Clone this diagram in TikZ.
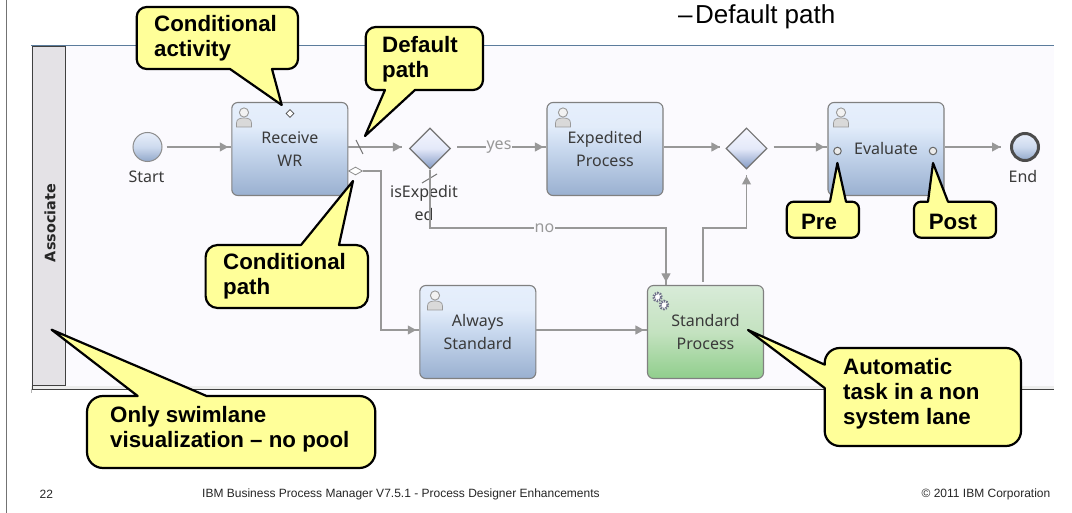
\documentclass[tikz,border=0pt]{standalone}
\usepackage{fontspec}
\setmainfont{Liberation Sans}
\newfontfamily\bpmfont{Noto Sans}
\newfontfamily\lanefont{DejaVu Sans}
\usetikzlibrary{arrows.meta,decorations.markings,shapes.geometric,calc}
\definecolor{flowc}{HTML}{989898}
\definecolor{lanebg}{HTML}{FBFAFE}
\definecolor{headbg}{HTML}{E4E2E6}
\definecolor{notey}{HTML}{FFFF99}
\definecolor{topline}{HTML}{5B7C9C}
\definecolor{bpmtext}{HTML}{3A3A3A}
\definecolor{gearc}{HTML}{6E7088}
\definecolor{tbA}{HTML}{9AB0D0}
\definecolor{tbB}{HTML}{C8D8EE}
\definecolor{tbC}{HTML}{E2ECFA}
\definecolor{tbD}{HTML}{E6EFFC}
\definecolor{tgA}{HTML}{90CE8C}
\definecolor{tgB}{HTML}{C4E2C0}
\definecolor{tgC}{HTML}{D8EBD8}
\definecolor{gwA}{HTML}{8299C4}
\definecolor{gwB}{HTML}{E4E9F9}
\definecolor{gwC}{HTML}{F5F6FE}
\definecolor{evA}{HTML}{92A8CA}
\definecolor{evB}{HTML}{CDDAEE}
\definecolor{evC}{HTML}{E8EEFA}
\pgfdeclareverticalshading{bluetask}{100bp}{color(0bp)=(tbA); color(25bp)=(tbA); color(50bp)=(tbB); color(62bp)=(tbC); color(75bp)=(tbD); color(100bp)=(tbD)}
\pgfdeclareverticalshading{greentask}{100bp}{color(0bp)=(tgA); color(25bp)=(tgA); color(50bp)=(tgB); color(75bp)=(tgC); color(100bp)=(tgC)}
\pgfdeclareverticalshading{gwshade}{100bp}{color(0bp)=(gwA); color(25bp)=(gwA); color(50bp)=(gwB); color(75bp)=(gwC); color(100bp)=(gwC)}
\pgfdeclareverticalshading{evshade}{100bp}{color(0bp)=(evA); color(25bp)=(evA); color(50bp)=(evB); color(75bp)=(evC); color(100bp)=(evC)}
\tikzset{
  taskbox/.style={draw=black!50,line width=1.1pt,rounded corners=6pt,minimum width=116pt,minimum height=93pt,
     inner sep=0pt,align=center,font=\bpmfont\fontsize{16}{23}\selectfont,text=bpmtext},
  humantask/.style={taskbox,shade,shading=bluetask},
  autotask/.style={taskbox,shade,shading=greentask},
  gateway/.style={diamond,aspect=1,draw=black!55,line width=1.1pt,minimum width=41pt,minimum height=41pt,inner sep=0pt,
     shade,shading=gwshade},
  eventc/.style={circle,minimum size=29pt,inner sep=0pt,shade,shading=evshade},
  bpmlabel/.style={font=\bpmfont\fontsize{16}{23}\selectfont,text=bpmtext,inner sep=0pt,align=center},
  flowlabel/.style={font=\bpmfont\fontsize{16}{16}\selectfont,text=flowc,fill=lanebg,inner sep=1pt},
  flow/.style={draw=flowc,line width=1.1pt,postaction={decorate},
     decoration={markings,mark=at position -#1 with {\arrow[flowc]{Triangle[length=8.5pt,width=9pt]}}}},
  flow/.default=3pt,
  callout/.style={draw=black,fill=notey,line width=2.2pt,line join=round},
  notetext/.style={font=\bfseries\fontsize{22.3}{25}\selectfont,text=black,inner sep=0pt,align=left,anchor=north west},
  foot/.style={font=\fontsize{12}{14}\selectfont,text=black!85,inner sep=0pt},
  personicon/.pic={
    \draw[black!40,line width=.7pt,fill=black!15] (-7.5,10) -- (-7.5,6) .. controls (-7.5,2) and (-4,1) .. (0,1) .. controls (4,1) and (7.5,2) .. (7.5,6) -- (7.5,10) -- cycle;
    \draw[black!40,fill=black!5,line width=.9pt] (0,-4.5) circle (4.6pt);
  },
  gearicon/.pic={
    \draw[gearc,line width=2.6pt,dash pattern=on 1.4pt off 1.1pt,fill=white] (-3,-4) circle (4pt);
    \draw[gearc,line width=2.6pt,dash pattern=on 1.4pt off 1.1pt,fill=white] (3.5,4) circle (4pt);
  },
  smalldiamond/.style={diamond,aspect=1,draw=black!70,fill=white,line width=.7pt,minimum size=8pt,inner sep=0pt},
  smallcirc/.style={circle,draw=black!60,fill=black!8,line width=1pt,minimum size=7.5pt,inner sep=0pt},
}
\begin{document}
\begin{tikzpicture}[x=1pt,y=-1pt]
\useasboundingbox (0,0) rectangle (1072,513);
\fill[white] (0,0) rectangle (1072,513);
% slide frame
\coordinate (frameT) at (6.5,0);
\coordinate (frameB) at (6.5,513);
\draw[black!55,line width=1pt] (frameT) -- (frameB);
% lane
\fill[lanebg] (31,46) rectangle (1054,386);
\fill[black!7] (31,386) rectangle (1054,388.5);
\draw[black!75,line width=1pt] (31,389) -- (1054,389);
\fill[black!30] (31,389) rectangle (32,393);
\draw[topline,line width=1.8pt] (31,45.5) -- (1054,45.5);
\draw[black!75,fill=headbg,line width=1pt] (32.5,46.5) rectangle (65.5,385.5);
\draw[black!75,line width=1.4pt] (32.5,46.5) -- (32.5,389);
\node[rotate=90,font=\lanefont\bfseries\fontsize{14.4}{14}\selectfont,text=black!85,inner sep=0pt] (lanename) at (50,223) {Associate};
% title
\node[anchor=west,font=\fontsize{26}{30}\selectfont,text=black,inner sep=0pt] (titleline) at (678,17) {–\kern2.5pt Default path};
% nodes
\node[eventc,draw=black!45,line width=1pt] (start) at (147.5,147) {};
\node[bpmlabel] (startl) at (146.5,177) {Start};
\node[humantask] (rcv) at (289.8,149) {Receive\\WR};
\node[gateway] (gw1) at (430,148.5) {};
\node[bpmlabel] (gw1l) at (424,203) {isExpedit\\ed};
\node[humantask] (exp) at (605,149) {Expedited\\Process};
\node[gateway] (gw2) at (746.5,148.5) {};
\node[humantask] (eval) at (886,149) {Evaluate};
\node[eventc,draw=black!70,line width=3pt,minimum size=27pt] (end) at (1025,147) {};
\node[bpmlabel] (endl) at (1023,177) {End};
\node[humantask] (always) at (477.8,332) {Always\\Standard};
\node[autotask] (std) at (705.5,332) {Standard\\Process};
% icons
\pic at (244,117) {personicon};
\pic at (563,117) {personicon};
\pic at (841,117) {personicon};
\pic at (435,300) {personicon};
\pic at (660.5,301) {gearicon};
\node[smalldiamond] (cond) at (290,113.5) {};
\node[smallcirc] (prec) at (837.5,151) {};
\node[smallcirc] (postc) at (933,151) {};
% flows
\draw[flow] ([xshift=4pt]start.east) -- ([yshift=2pt]rcv.west);
\draw[flow=.5pt] ([yshift=2pt]rcv.east) -- ([xshift=-7pt,yshift=1.5pt]gw1.west);
\draw[flow] ([xshift=6pt,yshift=1.5pt]gw1.east) -- ([yshift=2pt]exp.west);
\node[flowlabel] (yes) at (499,147) {yes};
\draw[flow=.5pt] ([yshift=2pt]exp.east) -- ([xshift=-5pt,yshift=1.5pt]gw2.west);
\draw[flow] ([xshift=6pt,yshift=1.5pt]gw2.east) -- ([yshift=2pt]eval.west);
\draw[flow=.5pt] ([yshift=2pt]eval.east) -- ([xshift=-9pt]end.west);
% slash marks
\coordinate (s1a) at (356,140); \coordinate (s1b) at (363,154);
\draw[black!55,line width=1pt] (s1a) -- (s1b);
\coordinate (s2a) at (422,183); \coordinate (s2b) at (437,174);
\draw[black!55,line width=1pt] (s2a) -- (s2b);
% no path
\coordinate (noA) at (430,228);
\coordinate (noB) at (666,228);
\draw[flow] (gw1.south) -- (noA) -- (noB) -- (noB |- std.north);
\node[flowlabel] (no) at (544.5,228) {no};
% standard to gateway 2
\coordinate (upA) at (703,228);
\coordinate (upB) at (746.5,228);
\coordinate (upC) at (746.5,175.5);
\draw[flow=.5pt] ([xshift=-2.5pt,yshift=3pt]std.north) -- (upA) -- (upB) -- (upC);
% conditional path
\node[diamond,aspect=1.8,draw=black!45,fill=white,line width=.8pt,minimum width=14pt,minimum height=8pt,inner sep=0pt] (cd) at (355.5,171) {};
\coordinate (cA) at (381,171);
\coordinate (cB) at (381,330);
\draw[flow] (cd.east) -- (cA) -- (cB) -- (cB -| always.west);
\draw[flow] ([yshift=2pt]always.east) -- ([yshift=2pt]std.west);
% callouts
\draw[callout] (230,69) -- (281.7,105) -- (272,69) [rounded corners=10pt] -- (298,69) -- (298,7) -- (136.7,7) -- (136.7,69) [sharp corners] -- cycle;
\node[notetext] (n1) at (154,15) {Conditional\\activity};
\draw[callout] (385,90) -- (365,136) -- (415,90) [rounded corners=10pt] -- (483,90) -- (483,27) -- (365.7,27) -- (365.7,90) [sharp corners] -- cycle;
\node[notetext] (n2) at (382,36) {Default\\path};
\draw[callout] (339,245) -- (353,181) -- (301,245) [rounded corners=12pt] -- (205.6,245) -- (205.6,308) -- (368,308) -- (368,245) [sharp corners] -- cycle;
\node[notetext] (n3) at (223,253.5) {Conditional\\path};
\draw[callout] (206.6,396) -- (51.6,329.7) -- (137.7,396) [rounded corners=16pt] -- (87,396) -- (87,468) -- (375.3,468) -- (375.3,396) [sharp corners] -- cycle;
\node[notetext] (n4) at (110,406) {Only swimlane\\visualization – no pool};
\draw[callout] (824.7,364.7) -- (748,330) -- (824.7,388) [rounded corners=15pt] -- (824.7,446) -- (1021,446) -- (1021,348) -- (824.7,348) [sharp corners] -- cycle;
\node[notetext] (n5) at (843,358) {Automatic\\task in a non\\system lane};
\draw[callout] (830,201.7) -- (837.4,163) -- (846,201.7) [rounded corners=7pt] -- (859,201.7) -- (859,237.7) -- (786.8,237.7) -- (786.8,201.7) [sharp corners] -- cycle;
\node[font=\bfseries\fontsize{22.3}{25}\selectfont,inner sep=0pt] (n6) at (819,222) {Pre};
\draw[callout] (928,201.7) -- (933,163) -- (948,201.7) [rounded corners=7pt] -- (996,201.7) -- (996,237.7) -- (914,237.7) -- (914,201.7) [sharp corners] -- cycle;
\node[font=\bfseries\fontsize{22.3}{25}\selectfont,inner sep=0pt] (n7) at (953,222) {Post};
% footer
\node[foot,anchor=west] (f1) at (39.5,494) {22};
\node[foot,anchor=west] (f2) at (202,494) {IBM Business Process Manager V7.5.1 - Process Designer Enhancements};
\node[foot,anchor=east] (f3) at (1050.5,494) {© 2011 IBM Corporation};
\end{tikzpicture}
\end{document}
